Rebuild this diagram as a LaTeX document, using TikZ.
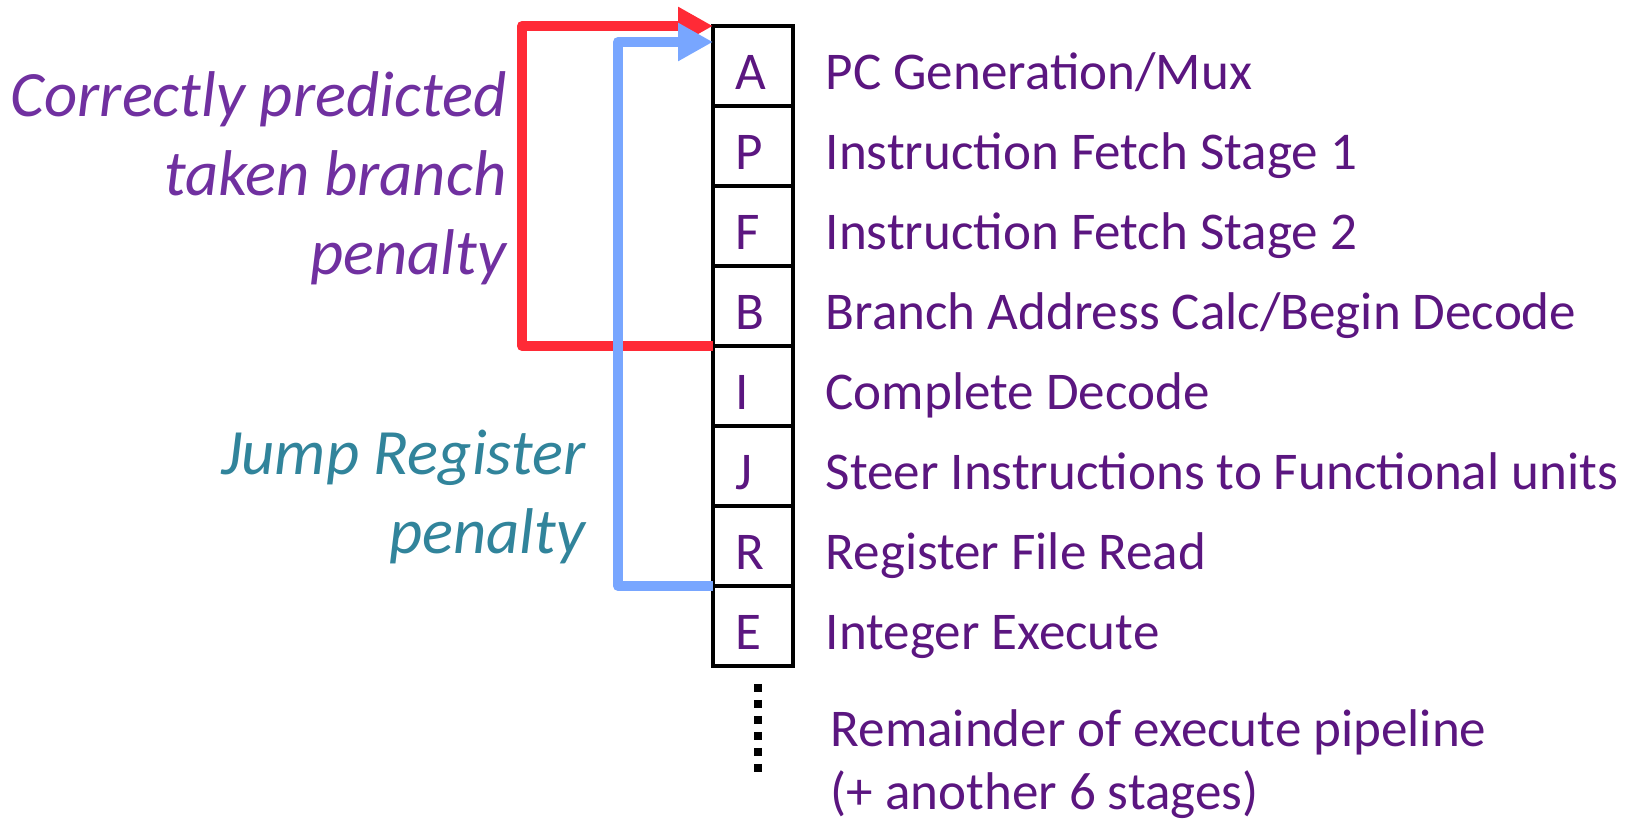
\documentclass[tikz,border=0pt]{standalone}
\usepackage{fontspec}
\setmainfont{Carlito}
\usepackage{tikz}
\usetikzlibrary{arrows.meta,calc}
\definecolor{stagepurple}{HTML}{5B1680}
\definecolor{penaltypurple}{HTML}{7030A0}
\definecolor{penaltyteal}{HTML}{31849B}
\definecolor{takenred}{HTML}{FF2A36}
\definecolor{jumpblue}{HTML}{78A6FF}

\begin{document}
\begin{tikzpicture}[
    stagebox/.style={draw, line width=0.04cm, minimum width=0.8cm, minimum height=0.8cm,
        inner sep=0pt, outer sep=0pt, anchor=north west},
    stagetext/.style={text=stagepurple, font=\fontsize{15.1}{18}\selectfont,
        inner sep=0pt, anchor=base west},
    penaltytext/.style={font=\fontsize{18.4}{22.5}\selectfont\itshape, align=right,
        inner sep=0pt, anchor=base east},
    feedback/.style={line width=0.1cm, line join=round,
        -{Triangle[length=0.35cm,width=0.36cm]}}
]
    \useasboundingbox (0,0) rectangle (16.25,8.2);
    %% Stages
    \foreach \s/\desc [count=\i from 0] in {A/{PC Generation/Mux},
        P/{Instruction Fetch Stage 1}, F/{Instruction Fetch Stage 2},
        B/{Branch Address Calc/Begin Decode}, I/{Complete Decode},
        J/{Steer Instructions to Functional units}, R/{Register File Read},
        E/{Integer Execute}}{
        \node[stagebox] (\s) at (7.13,7.94-0.8*\i) {};
        \node[stagetext] (\s-letter) at ($(\s.south west)+(0.22,0.16)$) {\s};
        \node[stagetext] (\s-desc) at ($(\s.south west)+(1.12,0.16)$) {\desc};
    }
    %% Rest of the pipe
    \coordinate (more-top) at (7.58,1.36);
    \coordinate (more-bot) at (7.58,0.48);
    \draw[line width=0.08cm, dash pattern=on 0.08cm off 0.08cm] (more-top) -- (more-bot);
    \node[stagetext, align=left] (rest) at (8.30,0.10)
        {Remainder of execute pipeline\\(+ another 6 stages)};
    %% Penalties
    \coordinate (taken-turn) at (5.22,7.94);
    \draw[feedback, takenred] (B.south west) -| (taken-turn) -- (A.north west);
    \coordinate (jump-turn) at (6.18,7.78);
    \coordinate (jump-in) at ($(A.north west)+(0,-0.16)$);
    \draw[feedback, jumpblue] (R.south west) -| (jump-turn) -- (jump-in);
    \node[penaltytext, text=penaltypurple] (taken-label) at (5.07,5.45)
        {Correctly predicted\\taken branch\\penalty};
    \node[penaltytext, text=penaltyteal] (jump-label) at (5.86,2.66)
        {Jump Register\\penalty};
\end{tikzpicture}
\end{document}
